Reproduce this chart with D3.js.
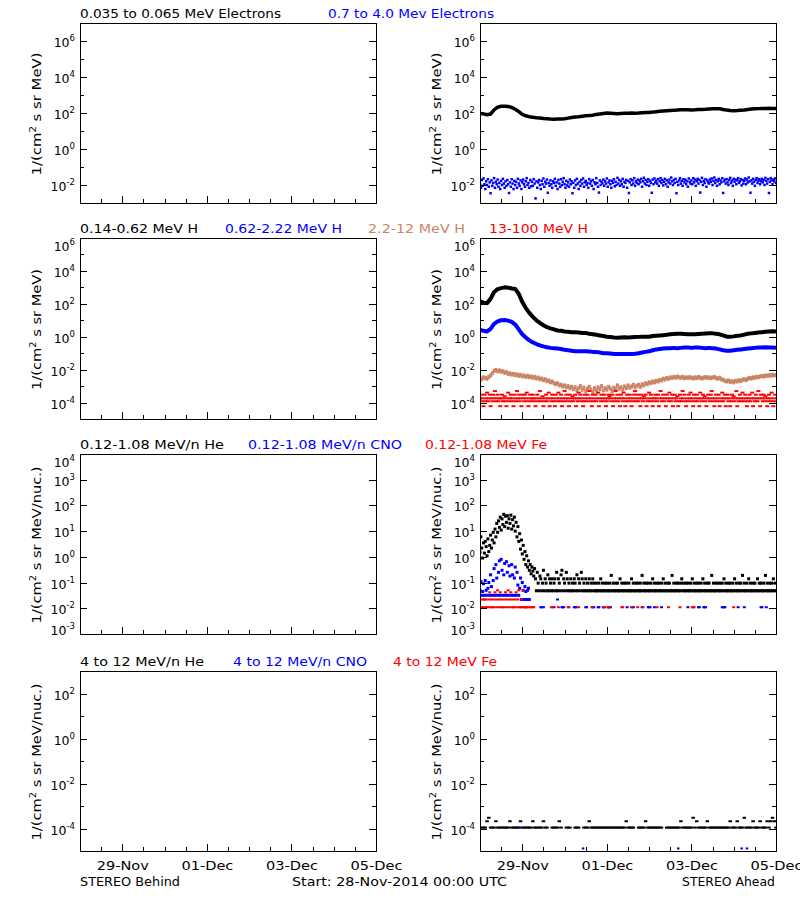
<!DOCTYPE html>
<html><head><meta charset="utf-8">
<script src="https://cdn.jsdelivr.net/npm/d3@7"></script>
<style>
body{margin:0;background:#fff;}
svg{display:block;}
text{font-family:"DejaVu Sans",sans-serif;}
</style></head><body>
<script>
// ================= DATA =================
const _ = null;
const startUTC = Date.UTC(2014, 10, 28); // 28-Nov-2014 00:00 UTC
const dateTickHours = [24, 72, 120, 168];
const dateTickLabels = ["29-Nov", "01-Dec", "03-Dec", "05-Dec"];
const minorTickHours = [12, 36, 48, 60, 84, 96, 108, 132, 144, 156];

const row1Titles = ["0.035 to 0.065 MeV Electrons", "0.7 to 4.0 Mev Electrons"];
const row2Titles = ["0.14-0.62 MeV H", "0.62-2.22 MeV H", "2.2-12 MeV H", "13-100 MeV H"];
const row3Titles = ["0.12-1.08 MeV/n He", "0.12-1.08 MeV/n CNO", "0.12-1.08 MeV Fe"];
const row4Titles = ["4 to 12 MeV/n He", "4 to 12 MeV/n CNO", "4 to 12 MeV Fe"];

// Row 1 (Ahead) 0.035-0.065 MeV electrons, every 2 h
const eLowAhead = [95,90,80,88,150,210,235,240,230,205,160,120,85,70,62,58,55,53,50,48,
46,45,46,47,48,52,56,60,62,66,70,72,76,82,88,95,100,98,95,92,
94,96,98,100,98,100,104,106,108,112,118,124,130,134,138,142,145,150,152,150,
148,150,155,158,162,168,172,175,170,158,145,136,134,136,140,145,155,165,172,175,
178,180,182,178,176];
// Row 1 (Ahead) 0.7-4.0 MeV electrons, every 30 min
const eHighAhead = [
0.012,0.007,0.019,0.009,0.023,0.011,0.006,0.016,0.01,0.021,0.008,0.014,0.0035,0.018,0.009,0.013,0.024,0.007,0.015,0.011,
0.02,0.008,0.013,0.006,0.017,0.01,0.022,0.012,0.007,0.016,0.009,0.019,0.011,0.0036,0.014,0.008,0.021,0.012,0.006,0.017,
0.01,0.015,0.007,0.022,0.012,0.009,0.018,0.006,0.014,0.02,0.011,0.008,0.016,0.024,0.01,0.013,0.007,0.019,0.0085,0.015,
0.009,0.021,0.012,0.0018,0.016,0.007,0.014,0.019,0.01,0.006,0.017,0.011,0.023,0.008,0.015,0.012,0.02,0.0037,0.013,0.009,
0.018,0.011,0.007,0.016,0.013,0.022,0.009,0.014,0.006,0.019,0.012,0.008,0.021,0.01,0.015,0.024,0.011,0.007,0.017,0.0095,
0.014,0.008,0.02,0.011,0.016,0.0035,0.013,0.007,0.018,0.01,0.022,0.012,0.006,0.015,0.009,0.019,0.012,0.023,0.008,0.014,
0.017,0.01,0.013,0.007,0.021,0.012,0.016,0.009,0.019,0.006,0.014,0.011,0.024,0.013,0.008,0.0038,0.018,0.01,0.015,0.012,
0.02,0.009,0.016,0.012,0.023,0.008,0.014,0.018,0.011,0.007,0.017,0.013,0.021,0.0085,0.015,0.01,0.025,0.012,0.019,0.009,
0.016,0.011,0.022,0.008,0.015,0.013,0.019,0.007,0.017,0.0036,0.014,0.021,0.01,0.018,0.012,0.024,0.009,0.016,0.013,0.02,
0.011,0.018,0.014,0.022,0.008,0.016,0.025,0.012,0.019,0.01,0.015,0.021,0.009,0.017,0.013,0.0037,0.02,0.011,0.023,0.014,
0.017,0.012,0.021,0.009,0.016,0.024,0.013,0.019,0.0095,0.015,0.022,0.011,0.018,0.008,0.014,0.02,0.012,0.026,0.016,0.01,
0.019,0.013,0.022,0.0035,0.015,0.01,0.018,0.024,0.012,0.017,0.009,0.021,0.014,0.02,0.011,0.016,0.008,0.023,0.015,0.012,
0.018,0.011,0.024,0.014,0.02,0.009,0.016,0.022,0.012,0.019,0.0038,0.015,0.025,0.01,0.017,0.013,0.021,0.008,0.018,0.014,
0.012,0.02,0.015,0.023,0.01,0.017,0.026,0.013,0.019,0.009,0.016,0.022,0.011,0.018,0.014,0.024,0.0036,0.016,0.02,0.012,
0.021,0.014,0.01,0.019,0.025,0.013,0.017,0.009,0.022,0.015,0.02,0.011,0.018,0.024,0.013,0.016,0.021,0.0095,0.019,0.012,
0.017,0.023,0.011,0.02,0.014,0.026,0.016,0.0037,0.018,0.012,0.022,0.015,0.009,0.019,0.024,0.013,0.017,0.021,0.011,0.016,
0.022,0.014,0.019,0.01,0.025,0.017,0.012,0.021,0.0036,0.015,0.024,0.018,0.011,0.02,0.016,0.023,0.013];

// Row 2 (Ahead) protons
const hLowAhead = [140,118,110,200,520,780,900,1000,960,850,800,400,130,55,28,16,10,7,5,3.8,
3.2,2.8,2.4,2.3,2.1,2.0,1.9,1.9,1.8,1.7,1.7,1.5,1.4,1.3,1.2,1.1,1.0,0.95,0.9,0.88,
0.9,0.92,0.9,0.92,0.95,0.98,1.0,1.0,1.0,1.1,1.15,1.2,1.25,1.3,1.4,1.45,1.5,1.5,1.45,1.4,
1.4,1.4,1.45,1.5,1.55,1.6,1.6,1.5,1.4,1.2,1.0,0.98,1.05,1.15,1.2,1.35,1.5,1.6,1.7,1.8,
1.9,2.0,2.1,2.15,2.1]; // every 2 h
const hMidAhead = [2.6,2.3,2.1,3.0,6.0,8.5,10,10.5,9.5,8.0,5.5,2.8,1.4,0.9,0.6,0.45,0.36,0.3,0.26,0.23,
0.21,0.2,0.19,0.18,0.16,0.15,0.14,0.13,0.13,0.13,0.13,0.125,0.12,0.12,0.11,0.1,0.1,0.095,0.09,0.088,
0.088,0.09,0.088,0.09,0.092,0.1,0.11,0.12,0.13,0.15,0.17,0.18,0.19,0.2,0.2,0.21,0.2,0.21,0.22,0.22,
0.21,0.22,0.22,0.21,0.2,0.21,0.2,0.19,0.17,0.15,0.14,0.14,0.15,0.16,0.17,0.18,0.19,0.2,0.21,0.22,
0.22,0.23,0.22,0.22,0.21]; // every 2 h
const hHighAhead = [ // 2.2-12 MeV, every 1 h
3.0e-3,2.6e-3,3.4e-3,3.1e-3,2.8e-3,3.6e-3,4.5e-3,6e-3,8.5e-3,9.5e-3,
8e-3,9e-3,7.5e-3,8e-3,6.5e-3,7e-3,5.5e-3,6e-3,5e-3,5.5e-3,
4.6e-3,5.2e-3,4.2e-3,4.8e-3,3.9e-3,4.4e-3,3.6e-3,4.2e-3,3.5e-3,3.9e-3,
3.2e-3,3.6e-3,2.9e-3,3.3e-3,2.6e-3,2.9e-3,2.3e-3,2.6e-3,2.0e-3,2.2e-3,
1.7e-3,1.9e-3,1.5e-3,1.3e-3,1.5e-3,1.1e-3,1.2e-3,9.5e-4,1.1e-3,8.5e-4,
1.0e-3,7.5e-4,9e-4,6.5e-4,8.5e-4,5.5e-4,7.5e-4,1.0e-3,6e-4,8e-4,
5e-4,7e-4,9e-4,6e-4,4.5e-4,7.5e-4,5.5e-4,8.5e-4,6.5e-4,1.0e-3,
5.5e-4,7.5e-4,6e-4,9e-4,7e-4,5e-4,8e-4,6.5e-4,1.1e-3,7e-4,
8.5e-4,6e-4,9.5e-4,7.5e-4,1.1e-3,8e-4,9.5e-4,1.2e-3,8.5e-4,1.05e-3,
1.2e-3,9e-4,1.3e-3,1.1e-3,1.5e-3,1.3e-3,1.7e-3,1.5e-3,1.9e-3,1.7e-3,
2.1e-3,1.9e-3,2.4e-3,2.2e-3,2.8e-3,2.5e-3,3.1e-3,2.8e-3,3.4e-3,3.1e-3,
3.6e-3,3.3e-3,3.8e-3,3.4e-3,3.2e-3,3.6e-3,3.0e-3,3.4e-3,3.1e-3,3.5e-3,
3.2e-3,2.9e-3,3.4e-3,3.1e-3,3.6e-3,3.2e-3,2.9e-3,3.3e-3,3.5e-3,3.1e-3,
3.4e-3,3.0e-3,3.3e-3,3.6e-3,3.1e-3,2.8e-3,3.2e-3,2.6e-3,2.4e-3,2.1e-3,
1.9e-3,2.2e-3,1.8e-3,2.0e-3,1.7e-3,2.1e-3,1.9e-3,2.3e-3,2.0e-3,2.4e-3,
2.6e-3,2.3e-3,2.8e-3,3.1e-3,2.9e-3,3.4e-3,3.2e-3,3.7e-3,3.5e-3,3.9e-3,
4.1e-3,3.8e-3,4.4e-3,4.2e-3,4.6e-3,4.3e-3,4.8e-3,4.5e-3,4.7e-3];
const hTopAhead = [ // 13-100 MeV, every 30 min
1.8e-4,3e-4,1.2e-4,1.8e-4,6e-5,3e-4,1.2e-4,1.8e-4,4e-4,1.2e-4,1.8e-4,3e-4,6e-5,1.8e-4,1.2e-4,3e-4,1.8e-4,5e-4,1.2e-4,1.8e-4,
3e-4,1.2e-4,1.8e-4,6e-5,1.8e-4,3e-4,1.2e-4,1.8e-4,2.4e-4,1.2e-4,6e-5,1.8e-4,4e-4,1.2e-4,1.8e-4,3e-4,1.8e-4,1.2e-4,6e-5,3e-4,
1.8e-4,1.2e-4,5e-4,1.8e-4,3e-4,1.2e-4,1.8e-4,6e-5,3e-4,1.8e-4,1.2e-4,3e-4,1.8e-4,4e-4,1.2e-4,6e-5,1.8e-4,3e-4,1.2e-4,1.8e-4,
3e-4,1.8e-4,1.2e-4,6e-5,1.8e-4,3e-4,1.2e-4,1.8e-4,5e-4,1.2e-4,1.8e-4,2.4e-4,6e-5,1.2e-4,1.8e-4,3e-4,1.2e-4,1.8e-4,4e-4,6e-5,
1.8e-4,1.2e-4,3e-4,1.8e-4,1.2e-4,6e-5,3e-4,1.8e-4,1.2e-4,4e-4,1.8e-4,1.2e-4,3e-4,6e-5,1.8e-4,1.2e-4,5e-4,1.8e-4,3e-4,1.2e-4,
1.8e-4,6e-5,3e-4,1.2e-4,1.8e-4,2.4e-4,1.2e-4,1.8e-4,3e-4,6e-5,1.8e-4,1.2e-4,4e-4,1.8e-4,3e-4,1.2e-4,1.8e-4,6e-5,1.2e-4,3e-4,
1.8e-4,1.2e-4,3e-4,1.8e-4,5e-4,1.2e-4,1.8e-4,6e-5,3e-4,1.2e-4,1.8e-4,3e-4,1.2e-4,1.8e-4,4e-4,6e-5,1.8e-4,1.2e-4,3e-4,1.8e-4,
1.2e-4,3e-4,1.8e-4,6e-5,1.2e-4,1.8e-4,3e-4,2.4e-4,1.8e-4,1.2e-4,3e-4,6e-5,1.8e-4,1.2e-4,5e-4,1.8e-4,3e-4,1.2e-4,1.8e-4,6e-5,
3e-4,1.8e-4,1.2e-4,4e-4,1.8e-4,6e-5,1.2e-4,3e-4,1.8e-4,1.2e-4,3e-4,1.8e-4,6e-5,1.2e-4,1.8e-4,3e-4,5e-4,1.2e-4,1.8e-4,3e-4,
1.2e-4,1.8e-4,6e-5,3e-4,1.8e-4,1.2e-4,2.4e-4,1.8e-4,3e-4,6e-5,1.2e-4,1.8e-4,4e-4,1.2e-4,3e-4,1.8e-4,6e-5,1.2e-4,1.8e-4,3e-4,
1.8e-4,1.2e-4,3e-4,6e-5,1.8e-4,5e-4,1.2e-4,1.8e-4,3e-4,1.2e-4,1.8e-4,6e-5,3e-4,1.8e-4,1.2e-4,4e-4,1.8e-4,1.2e-4,3e-4,6e-5,
1.8e-4,3e-4,1.2e-4,1.8e-4,2.4e-4,6e-5,1.2e-4,3e-4,1.8e-4,1.2e-4,5e-4,1.8e-4,3e-4,1.2e-4,6e-5,1.8e-4,1.2e-4,3e-4,1.8e-4,4e-4,
1.2e-4,1.8e-4,6e-5,3e-4,1.2e-4,1.8e-4,3e-4,1.2e-4,1.8e-4,6e-5,4e-4,1.8e-4,1.2e-4,3e-4,1.8e-4,2.4e-4,1.2e-4,6e-5,1.8e-4,3e-4,
1.8e-4,1.2e-4,3e-4,5e-4,1.8e-4,1.2e-4,6e-5,1.8e-4,3e-4,1.2e-4,1.8e-4,3e-4,6e-5,1.2e-4,1.8e-4,4e-4,1.2e-4,1.8e-4,3e-4,6e-5,
1.8e-4,3e-4,1.2e-4,1.8e-4,6e-5,1.2e-4,3e-4,1.8e-4,2.4e-4,1.2e-4,1.8e-4,5e-4,6e-5,1.8e-4,1.2e-4,3e-4,1.8e-4,1.2e-4,4e-4,1.8e-4,
1.2e-4,3e-4,1.8e-4,6e-5,1.2e-4,1.8e-4,3e-4,1.2e-4,1.8e-4,4e-4,6e-5,1.8e-4,1.2e-4,3e-4,1.8e-4,1.2e-4,5e-4,1.8e-4,6e-5,3e-4,
1.8e-4,1.2e-4,3e-4,1.8e-4,2.4e-4,1.2e-4,6e-5,1.8e-4,3e-4,1.2e-4,1.8e-4,4e-4,1.2e-4,6e-5,1.8e-4,3e-4,1.2e-4];

// Row 3 (Ahead) 0.12-1.08 MeV/n, every 30 min
const heLowAhead = [
1.5,6,2.2,0.9,3.5,1.4,4,2.5,1.1,5,1.6,2.8,7,2.2,4.5,9,3.5,12,6,20,
9,25,14,35,11,30,18,45,15,38,22,40,13,30,20,42,12,28,16,35,
10,22,6,15,4,8,2,4.5,1.3,2.8,0.8,1.6,0.5,1.1,0.4,0.7,0.3,0.5,0.22,0.4,
0.28,0.18,0.35,
0.14,0.048,0.25,0.095,0.048,0.18,0.14,0.048,0.095,0.3,0.048,0.14,0.095,0.048,0.2,0.048,0.14,0.095,0.048,0.14,
0.048,0.095,0.14,0.048,0.25,0.048,0.14,0.095,0.048,0.2,0.3,0.048,0.14,0.095,0.048,0.25,0.14,0.048,0.095,0.048,
0.14,0.048,0.095,0.048,0.14,0.095,0.048,0.2,0.048,0.14,0.095,0.048,0.25,0.14,0.048,0.095,0.048,0.14,0.048,0.095,
0.048,0.14,0.048,0.095,0.048,0.14,0.095,0.048,
0.048,0.095,0.048,0.048,0.095,0.048,0.14,0.048,0.095,0.048,0.048,0.095,0.048,0.095,0.048,0.048,0.095,0.048,0.19,0.048,
0.095,0.048,0.048,0.095,0.048,0.095,0.048,0.048,0.14,0.048,0.095,0.048,0.048,0.095,0.048,0.095,0.048,0.048,0.095,0.048,
0.048,0.14,0.048,0.095,0.048,0.048,0.095,0.048,0.095,0.048,0.048,0.095,0.048,0.19,0.048,0.095,0.048,0.048,0.095,0.048,
0.095,0.048,0.048,0.095,0.048,0.14,0.048,0.095,0.048,0.048,0.095,0.048,0.095,0.048,0.048,0.095,0.048,0.14,0.048,0.095,
0.048,0.048,0.095,0.048,0.095,0.048,0.048,0.19,0.048,0.095,0.048,0.048,0.095,0.048,0.095,0.048,0.048,0.095,0.14,0.048,
0.095,0.048,0.048,0.095,0.048,0.095,0.048,0.048,0.095,0.048,0.14,0.048,0.095,0.048,0.048,0.095,0.048,0.095,0.048,0.048,
0.095,0.048,0.14,0.048,0.095,0.048,0.048,0.095,0.048,0.095,0.048,0.048,0.19,0.048,0.095,0.048,0.048,0.095,0.048,0.095,
0.048,0.048,0.095,0.048,0.095,0.048,0.14,0.048,0.095,0.048,0.048,0.095,0.048,0.095,0.048,0.048,0.095,0.048,0.14,0.048,
0.095,0.048,0.048,0.095,0.048,0.095,0.048,0.19,0.048,0.095,0.048,0.048,0.095,0.048,0.14,0.048,0.095,0.048,0.048,0.095,
0.048,0.095,0.048,0.048,0.14,0.048,0.095,0.048,0.095,0.048,0.048,0.095,0.048,0.19,0.048,0.095,0.048,0.048,0.095,0.048,
0.095,0.048,0.14,0.048,0.095,0.048];
const cnoLowEarly = [ // every 30 min from 0 h
0.05,0.11,0.032,0.045,0.09,0.032,0.12,0.05,0.032,0.06,0.1,0.032,0.2,0.07,0.032,0.12,0.35,0.032,0.5,0.15,0.032,
0.25,0.7,0.032,0.8,0.3,0.032,0.2,0.55,0.032,0.65,0.25,0.032,0.45,0.18,0.032,0.5,0.2,0.032,0.15,0.4,0.032,
0.25,0.08,0.032,0.06,0.15,0.022,0.1,0.05,0.022,0.07,0.045,0.022,0.05,0.06,0.022];
const cnoLowLateHours = [34.5,35,36,42,44,46.5,47,47.5,53.5,54,54.5,60,60.5,64,64.5,67,67.5,70,70.5,73,73.5,74,83.5,86.5,87,92,95.5,96,96.5,99,103,118,124,124.5,127,127.5,128,137.5,138,138.5,139,146.5,150,159.5,160,162.5];
const cnoLowLateValues = [0.011,0.011,0.011,0.011,0.022,0.011,0.011,0.011,0.011,0.011,0.011,0.011,0.011,0.011,0.011,0.011,0.011,0.011,0.011,0.011,0.011,0.011,0.011,0.011,0.011,0.011,0.011,0.011,0.011,0.011,0.011,0.011,0.011,0.011,0.011,0.011,0.011,0.011,0.011,0.011,0.011,0.011,0.011,0.011,0.011,0.011];
const feLowEarly = [ // every 30 min from 0 h
0.011,0.022,0.011,0.011,0.022,0.022,0.011,0.022,0.011,0.011,0.022,0.042,0.011,0.022,0.011,0.011,0.022,0.042,
0.011,0.022,0.05,0.011,0.022,0.042,0.011,0.022,0.011,0.011,0.022,0.042,0.011,0.022,0.05,0.011,0.022,0.042,
0.011,0.022,0.011,0.011,0.022,0.042,0.011,0.022,0.05,0.011,0.011,0.022,0.011,0.05,0.011,0.011,0.011,0.011,0.011];
const feLowLateHours = [28.5,29,30,30.5,40.5,41,44.5,50,50.5,56,63.5,70.5,72.5,73,80.5,81,86,89.5,92.5,100.5,107,113.5,120.5,121,121.5,144];
const feLowLateValues = [0.011,0.011,0.011,0.011,0.011,0.011,0.011,0.011,0.011,0.011,0.011,0.011,0.011,0.011,0.011,0.011,0.011,0.011,0.011,0.011,0.011,0.011,0.011,0.011,0.011,0.011];

// Row 4 (Ahead) 4-12 MeV/n, every 1 h
const heHighAhead = [
1.1e-4,1.1e-4,1.1e-4,1.1e-4,2.1e-4,3e-4,1.1e-4,1.1e-4,1.1e-4,2.1e-4,
1.1e-4,1.1e-4,1.1e-4,1.1e-4,1.1e-4,1.1e-4,1.1e-4,2.1e-4,1.1e-4,1.1e-4,
1.1e-4,1.1e-4,1.1e-4,2.1e-4,1.1e-4,1.1e-4,1.1e-4,1.1e-4,1.1e-4,1.1e-4,
2.1e-4,1.1e-4,1.1e-4,1.1e-4,1.1e-4,1.1e-4,2.1e-4,1.1e-4,1.1e-4,_,
_,1.1e-4,1.1e-4,1.1e-4,1.1e-4,2.1e-4,1.1e-4,_,_,1.1e-4,
1.1e-4,1.1e-4,_,_,1.1e-4,1.1e-4,1.1e-4,_,_,1.1e-4,
1.1e-4,1.1e-4,2.1e-4,1.1e-4,1.1e-4,1.1e-4,1.1e-4,1.1e-4,1.1e-4,1.1e-4,
1.1e-4,1.1e-4,1.1e-4,1.1e-4,1.1e-4,1.1e-4,1.1e-4,1.1e-4,1.1e-4,1.1e-4,
1.1e-4,1.1e-4,1.1e-4,2.1e-4,1.1e-4,1.1e-4,1.1e-4,1.1e-4,_,_,
1.1e-4,1.1e-4,1.1e-4,1.1e-4,2.1e-4,1.1e-4,1.1e-4,1.1e-4,1.1e-4,1.1e-4,
1.1e-4,1.1e-4,1.1e-4,1.1e-4,_,_,1.1e-4,1.1e-4,1.1e-4,1.1e-4,
1.1e-4,1.1e-4,1.1e-4,1.1e-4,2.1e-4,1.1e-4,1.1e-4,1.1e-4,1.1e-4,1.1e-4,
1.1e-4,3e-4,1.1e-4,2.1e-4,1.1e-4,1.1e-4,1.1e-4,1.1e-4,1.1e-4,2.1e-4,
1.1e-4,1.1e-4,1.1e-4,1.1e-4,1.1e-4,1.1e-4,1.1e-4,1.1e-4,1.1e-4,1.1e-4,
1.1e-4,1.1e-4,2.1e-4,1.1e-4,1.1e-4,1.1e-4,2.1e-4,1.1e-4,1.1e-4,1.1e-4,
3e-4,1.1e-4,1.1e-4,1.1e-4,1.1e-4,2.1e-4,1.1e-4,1.1e-4,1.1e-4,2.1e-4,
1.1e-4,1.1e-4,1.1e-4,2.1e-4,1.1e-4,2.1e-4,3e-4,2.1e-4,1.1e-4];
const cnoHighHours = [22.5, 58.5, 112.5, 148.5, 151.5];
const cnoHighValues = [1.1e-4, 1.3e-5, 1.3e-5, 1.3e-5, 1.3e-5];

// ================= CHART =================
const BLACK = "#000000", BLUE = "#0000ff", TAN = "#cc8466", RED = "#ff0000";
const W = 800, H = 900, FS = 12.5;
const svg = d3.select("body").append("svg").attr("width", W).attr("height", H);
svg.append("rect").attr("width", W).attr("height", H).attr("fill", "#fff");

const toDate = h => new Date(startUTC + h * 3600e3);
const t0 = toDate(0), t1 = toDate(168);
const cols = [{x0: 80, x1: 376}, {x0: 480, x1: 776}];

const regular = (vals, step) => vals.map((v, i) => ({h: i * step, v})).filter(d => d.v != null);
const paired = (hs, vs) => hs.map((h, i) => ({h, v: vs[i]}));

const rows = [
  {top: 23, bottom: 203, domain: [1e-3, 1e7], major: [1e-2, 1, 1e2, 1e4, 1e6], minor: [1e-1, 10, 1e3, 1e5],
   unit: "MeV)", labLen: 123,
   titles: [[row1Titles[0], BLACK, 80, 201], [row1Titles[1], BLUE, 328, 166]],
   series: [
     {kind: "line", pts: regular(eLowAhead, 2), color: BLACK, w: 3.5},
     {kind: "dot", pts: regular(eHighAhead, 0.5), color: BLUE, w: 2.5, h: 2.5}
   ]},
  {top: 238, bottom: 419, domain: [1e-5, 1e6], major: [1e-4, 1e-2, 1, 1e2, 1e4, 1e6], minor: [1e-3, 1e-1, 10, 1e3, 1e5],
   unit: "MeV)", labLen: 121,
   titles: [[row2Titles[0], BLACK, 80, 118], [row2Titles[1], BLUE, 225, 117], [row2Titles[2], TAN, 368, 97], [row2Titles[3], RED, 489, 99]],
   series: [
     {kind: "line", pts: regular(hLowAhead, 2), color: BLACK, w: 4},
     {kind: "line", pts: regular(hMidAhead, 2), color: BLUE, w: 4},
     {kind: "dot", pts: regular(hHighAhead, 1), color: TAN, w: 3, h: 4},
     {kind: "dot", pts: regular(hTopAhead, 0.5), color: RED, w: 4, h: 2}
   ]},
  {top: 454, bottom: 634, domain: [1e-3, 1e4], major: [1e-3, 1e-2, 1e-1, 1, 10, 1e2, 1e3, 1e4], minor: [],
   unit: "MeV/nuc.)", labLen: 157,
   titles: [[row3Titles[0], BLACK, 80, 144], [row3Titles[1], BLUE, 248, 154], [row3Titles[2], RED, 425, 122]],
   series: [
     {kind: "dot", pts: regular(heLowAhead, 0.5), color: BLACK, w: 3, h: 3},
     {kind: "dot", pts: regular(cnoLowEarly, 0.5), color: BLUE, w: 3, h: 3},
     {kind: "dot", pts: paired(cnoLowLateHours, cnoLowLateValues), color: BLUE, w: 3, h: 2},
     {kind: "dot", pts: regular(feLowEarly, 0.5), color: RED, w: 3, h: 2},
     {kind: "dot", pts: paired(feLowLateHours, feLowLateValues), color: RED, w: 3, h: 2}
   ]},
  {top: 671, bottom: 851, domain: [1e-5, 1e3], major: [1e-4, 1e-2, 1, 1e2], minor: [1e-3, 1e-1, 10],
   unit: "MeV/nuc.)", labLen: 157, last: true,
   titles: [[row4Titles[0], BLACK, 80, 124], [row4Titles[1], BLUE, 233, 134], [row4Titles[2], RED, 393, 104]],
   series: [
     {kind: "dot", pts: regular(heHighAhead, 1), color: BLACK, w: 3.5, h: 2},
     {kind: "dot", pts: paired(cnoHighHours, cnoHighValues), color: BLUE, w: 2.5, h: 2}
   ]}
];

rows.forEach((r, ri) => {
  // titles
  r.titles.forEach(([txt, col, x0, len]) => {
    svg.append("text").attr("x", x0).attr("y", r.top - 5.5).attr("font-size", FS).attr("fill", col)
      .attr("textLength", len).attr("lengthAdjust", "spacingAndGlyphs").text(txt);
  });
  cols.forEach((c, ci) => {
    const x = d3.scaleUtc().domain([t0, t1]).range([c.x0, c.x1]);
    const y = d3.scaleLog().domain(r.domain).range([r.bottom, r.top]);
    const g = svg.append("g");
    const clipId = `clip${ri}${ci}`;
    svg.append("clipPath").attr("id", clipId).append("rect")
      .attr("x", c.x0).attr("y", r.top).attr("width", c.x1 - c.x0).attr("height", r.bottom - r.top);

    // data (Ahead = right column)
    if (ci === 1) {
      const dg = g.append("g").attr("clip-path", `url(#${clipId})`);
      r.series.forEach(s => {
        if (s.kind === "line") {
          dg.append("path").datum(s.pts).attr("fill", "none").attr("stroke", s.color)
            .attr("stroke-width", s.w).attr("stroke-linejoin", "round")
            .attr("d", d3.line().x(d => x(toDate(d.h))).y(d => y(d.v)));
        } else {
          dg.append("g").selectAll("rect").data(s.pts).join("rect")
            .attr("x", d => x(toDate(d.h)) - s.w / 2).attr("y", d => y(d.v) - s.h / 2)
            .attr("width", s.w).attr("height", s.h).attr("fill", s.color);
        }
      });
    }

    // frame
    g.append("rect").attr("x", c.x0 + 0.5).attr("y", r.top + 0.5).attr("width", c.x1 - c.x0)
      .attr("height", r.bottom - r.top).attr("fill", "none").attr("stroke", "#000").attr("stroke-width", 1)
      .attr("shape-rendering", "crispEdges");

    const clean = sel => { sel.select(".domain").remove(); sel.attr("shape-rendering", "crispEdges"); };
    const [dMin, dMax] = r.domain;
    // left major with labels
    const la = g.append("g").attr("transform", `translate(${c.x0},0)`)
      .call(d3.axisLeft(y).tickValues(r.major).tickSize(-7).tickSizeOuter(0).tickFormat(() => ""));
    clean(la);
    la.selectAll(".tick text").remove();
    la.selectAll(".tick").append("text").attr("x", -5)
      .attr("y", d => d === dMax ? 12 : (d === dMin ? 0 : 5.5))
      .attr("text-anchor", "end").attr("font-size", FS).attr("fill", "#000")
      .each(function (d) {
        const t = d3.select(this);
        t.append("tspan").text("10");
        t.append("tspan").attr("dy", -6).attr("font-size", 8.5).text(Math.round(Math.log10(d)));
      });
    // left minor
    clean(g.append("g").attr("transform", `translate(${c.x0},0)`)
      .call(d3.axisLeft(y).tickValues(r.minor).tickSize(-4).tickSizeOuter(0).tickFormat(() => "")));
    // right
    clean(g.append("g").attr("transform", `translate(${c.x1},0)`)
      .call(d3.axisRight(y).tickValues(r.major).tickSize(-7).tickSizeOuter(0).tickFormat(() => "")));
    clean(g.append("g").attr("transform", `translate(${c.x1},0)`)
      .call(d3.axisRight(y).tickValues(r.minor).tickSize(-4).tickSizeOuter(0).tickFormat(() => "")));
    // bottom
    const ba = g.append("g").attr("transform", `translate(0,${r.bottom})`)
      .call(d3.axisBottom(x).tickValues(dateTickHours.map(toDate)).tickSize(-7).tickSizeOuter(0).tickPadding(10)
        .tickFormat((d, i) => r.last ? dateTickLabels[i] : ""));
    clean(ba);
    ba.selectAll(".tick text").attr("font-size", FS).attr("fill", "#000")
      .attr("textLength", 52).attr("lengthAdjust", "spacingAndGlyphs");
    if (!r.last) ba.selectAll(".tick text").remove();
    clean(g.append("g").attr("transform", `translate(0,${r.bottom})`)
      .call(d3.axisBottom(x).tickValues(minorTickHours.map(toDate)).tickSize(-4).tickSizeOuter(0).tickFormat(() => "")));

    // y label
    const lab = g.append("text")
      .attr("transform", `translate(${c.x0 - 39},${(r.top + r.bottom) / 2 + 1}) rotate(-90)`)
      .attr("text-anchor", "middle").attr("font-size", FS).attr("fill", "#000")
      .attr("textLength", r.labLen).attr("lengthAdjust", "spacingAndGlyphs");
    lab.append("tspan").text("1/(cm");
    lab.append("tspan").attr("dy", -5).attr("font-size", 8.5).text("2");
    lab.append("tspan").attr("dy", 5).text(" s sr " + r.unit);
  });
});

// footer
svg.append("text").attr("x", 80).attr("y", 886).attr("font-size", FS).attr("textLength", 100)
  .attr("lengthAdjust", "spacingAndGlyphs").text("STEREO Behind");
svg.append("text").attr("x", 292).attr("y", 886).attr("font-size", FS).attr("textLength", 215)
  .attr("lengthAdjust", "spacingAndGlyphs").text("Start: 28-Nov-2014 00:00 UTC");
svg.append("text").attr("x", 682).attr("y", 886).attr("font-size", FS).attr("textLength", 93)
  .attr("lengthAdjust", "spacingAndGlyphs").text("STEREO Ahead");
</script>
</body></html>
